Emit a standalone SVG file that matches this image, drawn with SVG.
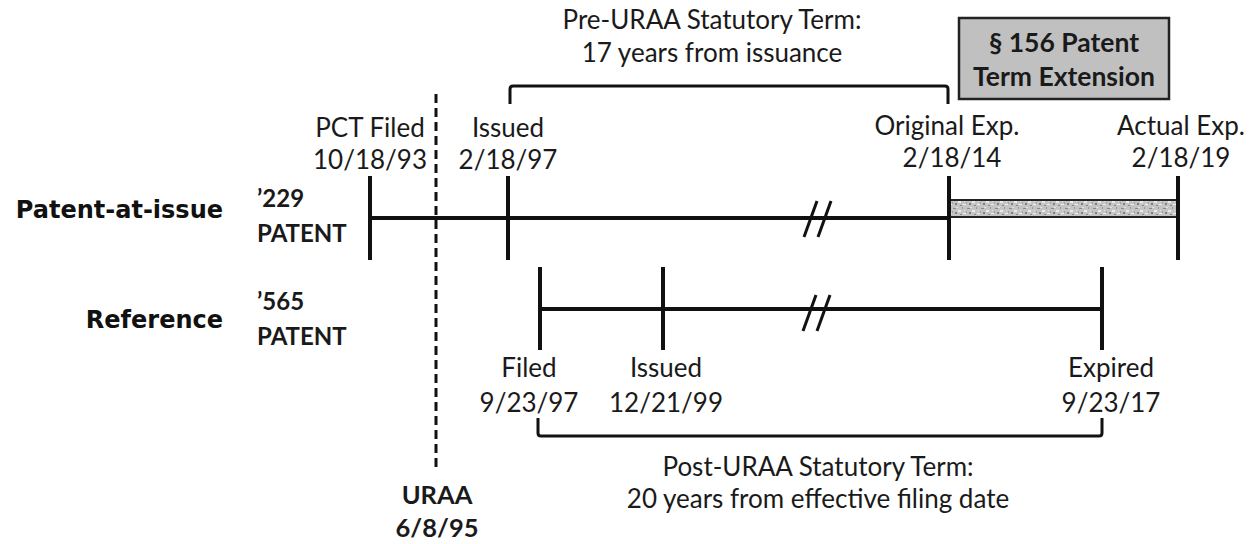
<svg xmlns="http://www.w3.org/2000/svg" width="1257" height="544" viewBox="0 0 1257 544">
<style>
.t{font-family:Lato,"Liberation Sans",sans-serif;font-size:26px;fill:#1a1a1a;text-anchor:middle}
.tb{font-family:Lato,"Liberation Sans",sans-serif;font-size:24px;font-weight:bold;fill:#1a1a1a}
.lbl{font-family:"DejaVu Sans",sans-serif;font-size:24px;font-weight:bold;fill:#111;text-anchor:end}
.ln{stroke:#111;stroke-width:4;fill:none;stroke-linecap:butt}
.br{stroke:#111;stroke-width:3;fill:none;stroke-linejoin:round}
</style>
<defs>
<pattern id="spk" width="14" height="9" patternUnits="userSpaceOnUse">
<rect width="14" height="9" fill="#c4c4c4"/>
<rect x="1" y="1" width="3" height="1" fill="#8a8a8a"/>
<rect x="6" y="3" width="3" height="2" fill="#eaeaea"/>
<rect x="10" y="0" width="1" height="2" fill="#999"/>
<rect x="3" y="5" width="2" height="2" fill="#7f7f7f"/>
<rect x="11" y="6" width="3" height="1" fill="#efefef"/>
<rect x="0" y="4" width="1" height="2" fill="#a0a0a0"/>
<rect x="8" y="7" width="2" height="1" fill="#888"/>
<rect x="12" y="3" width="1" height="1" fill="#e0e0e0"/>
<rect x="4" y="0" width="2" height="1" fill="#e5e5e5"/>
</pattern>
</defs>
<rect width="1257" height="544" fill="#fff"/>

<g id="connectors">
<!-- URAA dashed line -->
<line x1="436" y1="94" x2="436" y2="470" stroke="#111" stroke-width="3" stroke-dasharray="9,5"/>
<!-- patent 229 timeline -->
<line class="ln" x1="370" y1="218" x2="948" y2="218"/>
<rect x="948" y="200" width="230" height="17" fill="url(#spk)" stroke="#222" stroke-width="2"/>
<line class="ln" x1="370" y1="176" x2="370" y2="260"/>
<line class="ln" x1="508" y1="176" x2="508" y2="260"/>
<line class="ln" x1="949" y1="176" x2="949" y2="260"/>
<line class="ln" x1="1178" y1="176" x2="1178" y2="260"/>
<line class="br" x1="804" y1="237" x2="817" y2="201"/>
<line class="br" x1="818" y1="237" x2="831" y2="201"/>
<!-- patent 565 timeline -->
<line class="ln" x1="540" y1="309" x2="1102" y2="309"/>
<line class="ln" x1="540" y1="267" x2="540" y2="350"/>
<line class="ln" x1="663" y1="267" x2="663" y2="350"/>
<line class="ln" x1="1102" y1="267" x2="1102" y2="350"/>
<line class="br" x1="803" y1="331" x2="816" y2="295"/>
<line class="br" x1="817" y1="331" x2="830" y2="295"/>
<!-- brackets -->
<path class="br" d="M510,104 V89 Q510,86 513,86 H945 Q948,86 948,89 V104"/>
<path class="br" d="M538,418 V433 Q538,436 541,436 H1099 Q1102,436 1102,433 V418"/>
</g>

<g id="row-labels">
<text class="lbl" x="223" y="218">Patent-at-issue</text>
<text class="lbl" x="223" y="328">Reference</text>
</g>
<g id="patent-229">
<text class="tb" x="257" y="207">’229</text>
<text class="tb" x="257" y="242">PATENT</text>
</g>
<g id="patent-565">
<text class="tb" x="257" y="310">’565</text>
<text class="tb" x="257" y="345">PATENT</text>
</g>
<g id="pre-uraa-term">
<text class="t" x="712" y="29">Pre-URAA Statutory Term:</text>
<text class="t" x="712" y="62">17 years from issuance</text>
</g>
<g id="pte-box">
<rect x="959" y="18" width="210" height="81" fill="#c0c0c0" stroke="#222" stroke-width="2.5"/>
<text class="tb" x="1064" y="52" text-anchor="middle" style="font-size:26.5px">§ 156 Patent</text>
<text class="tb" x="1064" y="86" text-anchor="middle" style="font-size:26.5px">Term Extension</text>
</g>
<g id="pct-filed">
<text class="t" x="370" y="137">PCT Filed</text>
<text class="t" x="370" y="169">10/18/93</text>
</g>
<g id="issued-229">
<text class="t" x="508" y="137">Issued</text>
<text class="t" x="508" y="169">2/18/97</text>
</g>
<g id="original-exp">
<text class="t" x="947" y="135">Original Exp.</text>
<text class="t" x="952" y="167">2/18/14</text>
</g>
<g id="actual-exp">
<text class="t" x="1181" y="135">Actual Exp.</text>
<text class="t" x="1181" y="167">2/18/19</text>
</g>
<g id="filed-565">
<text class="t" x="529" y="377">Filed</text>
<text class="t" x="529" y="412">9/23/97</text>
</g>
<g id="issued-565">
<text class="t" x="666" y="377">Issued</text>
<text class="t" x="666" y="412">12/21/99</text>
</g>
<g id="expired-565">
<text class="t" x="1111" y="377">Expired</text>
<text class="t" x="1111" y="412">9/23/17</text>
</g>
<g id="post-uraa-term">
<text class="t" x="818" y="476">Post-URAA Statutory Term:</text>
<text class="t" x="818" y="508">20 years from effective filing date</text>
</g>
<g id="uraa">
<text class="tb" x="437" y="504" text-anchor="middle" style="font-size:25.5px">URAA</text>
<text class="tb" x="437" y="537" text-anchor="middle" style="font-size:25.5px">6/8/95</text>
</g>
</svg>
